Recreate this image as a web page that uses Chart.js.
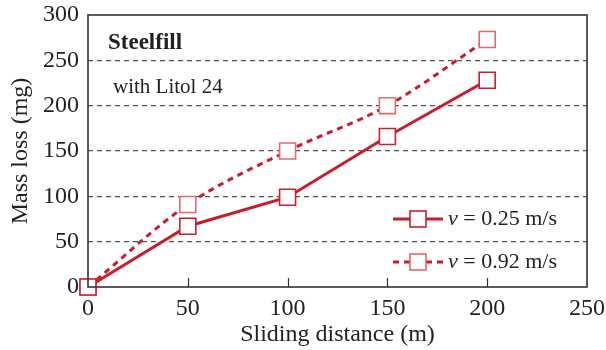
<!DOCTYPE html>
<html>
<head>
<meta charset="utf-8">
<script src="https://cdn.jsdelivr.net/npm/chart.js@4"></script>
<style>
    html, body { margin: 0; padding: 0; background: #fff; }
    #wrap { width: 606px; height: 350px; }
</style>
</head>
<body>
<div id="wrap"><canvas id="chart" width="606" height="350"></canvas></div>
<script>
// Values
const distances = [0, 50, 100, 150, 200];
const massLossSlow = [0, 67, 99, 166, 228];   // v = 0.25 m/s
const massLossFast = [0, 91, 150, 200, 273];  // v = 0.92 m/s
const seriesLabels = ['0.25 m/s', '0.92 m/s'];
const xTicks = [0, 50, 100, 150, 200, 250];
const yTicks = [0, 50, 100, 150, 200, 250, 300];

const serif = '"Liberation Serif", "DejaVu Serif", serif';
const red = '#cc1b2b';
const markerSolid = '#c8202f';
const markerLight = '#e06a75';

// Frame, inward x ticks, the in-plot labels and the legend
const decorations = {
    id: 'decorations',
    afterDraw(chart) {
        const { ctx, chartArea: a, scales } = chart;
        ctx.save();

        // inward tick marks on bottom axis
        ctx.strokeStyle = '#333';
        ctx.lineWidth = 1.2;
        xTicks.slice(1, -1).forEach(v => {
            const x = Math.round(scales.x.getPixelForValue(v)) + 0.5;
            ctx.beginPath();
            ctx.moveTo(x, a.bottom);
            ctx.lineTo(x, a.bottom - 9);
            ctx.stroke();
        });

        // plot frame
        ctx.lineWidth = 1.6;
        ctx.strokeStyle = '#333';
        ctx.strokeRect(a.left, a.top, a.right - a.left, a.bottom - a.top);

        // in-plot labels
        ctx.fillStyle = '#222';
        ctx.textBaseline = 'middle';
        ctx.textAlign = 'left';
        ctx.font = 'bold 23px ' + serif;
        ctx.fillText('Steelfill', 108, 43);
        ctx.font = '21px ' + serif;
        ctx.fillText('with Litol 24', 113, 87);

        // legend
        const rows = [
            { y: 219, dash: [], border: markerSolid, text: seriesLabels[0] },
            { y: 262, dash: [6, 5], border: markerLight, text: seriesLabels[1] }
        ];
        rows.forEach(r => {
            ctx.strokeStyle = red;
            ctx.lineWidth = 3;
            ctx.setLineDash(r.dash);
            ctx.beginPath();
            ctx.moveTo(393, r.y);
            ctx.lineTo(443, r.y);
            ctx.stroke();
            ctx.setLineDash([]);
            ctx.fillStyle = '#fff';
            ctx.fillRect(410, r.y - 8, 16, 16);
            ctx.strokeStyle = r.border;
            ctx.lineWidth = 1.6;
            ctx.strokeRect(410, r.y - 8, 16, 16);

            ctx.fillStyle = '#222';
            ctx.font = 'italic 22px ' + serif;
            ctx.fillText('v', 448, r.y);
            const vw = ctx.measureText('v').width;
            ctx.font = '22px ' + serif;
            ctx.fillText(' = ' + r.text, 448 + vw, r.y);
        });

        ctx.restore();
    }
};

new Chart(document.getElementById('chart'), {
    type: 'line',
    data: {
        datasets: [
            {
                label: seriesLabels[0],
                data: distances.map((d, i) => ({ x: d, y: massLossSlow[i] })),
                borderColor: red,
                borderWidth: 3,
                pointStyle: 'rect',
                pointRadius: 11.3,
                pointBorderWidth: 1.6,
                pointBorderColor: markerSolid,
                pointBackgroundColor: '#fff',
                tension: 0,
                clip: false
            },
            {
                label: seriesLabels[1],
                data: distances.map((d, i) => ({ x: d, y: massLossFast[i] })),
                borderColor: red,
                borderWidth: 3,
                borderDash: [6, 5],
                pointStyle: 'rect',
                pointRadius: 11.3,
                pointBorderWidth: 1.6,
                pointBorderColor: markerLight,
                pointBackgroundColor: '#fff',
                cubicInterpolationMode: 'monotone',
                clip: false
            }
        ]
    },
    options: {
        responsive: false,
        animation: false,
        layout: { padding: { left: 0, top: 0, right: 19, bottom: 0 } },
        plugins: {
            legend: { display: false },
            tooltip: { enabled: false }
        },
        scales: {
            x: {
                type: 'linear',
                min: 0,
                max: 250,
                afterBuildTicks: s => { s.ticks = xTicks.map(v => ({ value: v })); },
                afterFit: s => { s.height = 63; s.paddingRight = 0; s.paddingLeft = 0; },
                grid: { display: false, drawTicks: false },
                border: { display: false },
                ticks: {
                    color: '#222',
                    padding: 9,
                    maxRotation: 0,
                    font: { family: serif, size: 24, lineHeight: 1.05 }
                },
                title: {
                    display: true,
                    text: 'Sliding distance (m)',
                    color: '#222',
                    padding: { top: 0, bottom: 2 },
                    font: { family: serif, size: 24, lineHeight: 1.1 }
                }
            },
            y: {
                min: 0,
                max: 300,
                afterBuildTicks: s => { s.ticks = yTicks.map(v => ({ value: v })); },
                afterFit: s => { s.width = 88; s.paddingTop = 15; },
                grid: {
                    drawTicks: false,
                    lineWidth: 1.2,
                    color: c => (c.tick && (c.tick.value === 0 || c.tick.value === 300)) ? 'transparent' : '#555'
                },
                border: { display: false, dash: [5, 4] },
                ticks: {
                    color: '#222',
                    padding: 9,
                    font: { family: serif, size: 24, lineHeight: 1.1 }
                },
                title: {
                    display: true,
                    text: 'Mass loss (mg)',
                    color: '#222',
                    padding: { top: 6, bottom: 0 },
                    font: { family: serif, size: 24 }
                }
            }
        }
    },
    plugins: [decorations]
});
</script>
</body>
</html>
